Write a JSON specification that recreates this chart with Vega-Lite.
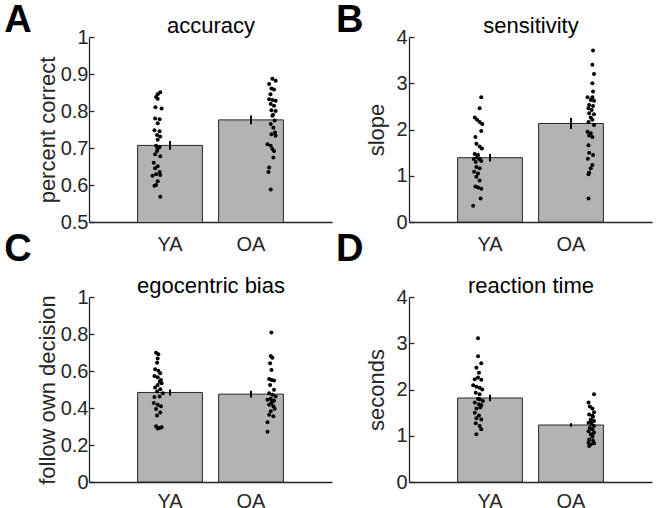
{
  "$schema": "https://vega.github.io/schema/vega-lite/v6.json",
  "background": "white",
  "padding": {"left": 4, "top": 2, "right": 5, "bottom": 0},
  "config": {
    "font": "Liberation Sans",
    "view": {"stroke": null},
    "axis": {"grid": false, "domainColor": "#262626", "domainWidth": 1.3, "tickColor": "#262626", "tickWidth": 1.3, "labelFont": "Liberation Sans", "labelFontSize": 20, "labelColor": "#262626", "labelOverlap": false, "labelSeparation": -20, "titleFont": "Liberation Sans", "titleFontSize": 22, "titleFontWeight": "normal", "titleColor": "#262626"},
    "axisY": {"labelPadding": 6, "titlePadding": 1, "format": "~g", "labelOverlap": false},
    "axisBottom": {"ticks": false, "labelPadding": 12, "labelAngle": 0, "title": null},
    "axisTop": {"ticks": false, "labels": false, "domain": false, "titlePadding": 0, "titleColor": "black"},
    "title": {"fontSize": 38, "fontWeight": "bold", "font": "Liberation Sans", "color": "black", "orient": "left", "angle": 0, "align": "right", "baseline": "alphabetic", "anchor": "end", "frame": "group", "offset": 2},
    "circle": {"color": "black", "opacity": 1, "size": 16},
    "rule": {"color": "black", "strokeWidth": 2}
  },
  "datasets": {
    "summary": [
      {"p": "A", "g": "YA", "m": 0.707, "lo": 0.695, "hi": 0.719},
      {"p": "A", "g": "OA", "m": 0.776, "lo": 0.764, "hi": 0.788},
      {"p": "B", "g": "YA", "m": 1.39, "lo": 1.31, "hi": 1.47},
      {"p": "B", "g": "OA", "m": 2.13, "lo": 2.01, "hi": 2.25},
      {"p": "C", "g": "YA", "m": 0.484, "lo": 0.468, "hi": 0.5},
      {"p": "C", "g": "OA", "m": 0.475, "lo": 0.457, "hi": 0.493},
      {"p": "D", "g": "YA", "m": 1.816, "lo": 1.745, "hi": 1.885},
      {"p": "D", "g": "OA", "m": 1.232, "lo": 1.196, "hi": 1.268}
    ],
    "points": [
      {"p": "A", "g": "YA", "v": 0.851, "j": 0.35},
      {"p": "A", "g": "YA", "v": 0.845, "j": 0.31},
      {"p": "A", "g": "YA", "v": 0.838, "j": 0.285},
      {"p": "A", "g": "YA", "v": 0.833, "j": 0.31},
      {"p": "A", "g": "YA", "v": 0.807, "j": 0.37},
      {"p": "A", "g": "YA", "v": 0.81, "j": 0.275},
      {"p": "A", "g": "YA", "v": 0.78, "j": 0.27},
      {"p": "A", "g": "YA", "v": 0.778, "j": 0.34},
      {"p": "A", "g": "YA", "v": 0.767, "j": 0.31},
      {"p": "A", "g": "YA", "v": 0.748, "j": 0.26},
      {"p": "A", "g": "YA", "v": 0.745, "j": 0.34},
      {"p": "A", "g": "YA", "v": 0.735, "j": 0.3},
      {"p": "A", "g": "YA", "v": 0.731, "j": 0.35},
      {"p": "A", "g": "YA", "v": 0.722, "j": 0.31},
      {"p": "A", "g": "YA", "v": 0.706, "j": 0.285},
      {"p": "A", "g": "YA", "v": 0.703, "j": 0.34},
      {"p": "A", "g": "YA", "v": 0.698, "j": 0.31},
      {"p": "A", "g": "YA", "v": 0.692, "j": 0.3},
      {"p": "A", "g": "YA", "v": 0.683, "j": 0.27},
      {"p": "A", "g": "YA", "v": 0.678, "j": 0.35},
      {"p": "A", "g": "YA", "v": 0.66, "j": 0.25},
      {"p": "A", "g": "YA", "v": 0.651, "j": 0.31},
      {"p": "A", "g": "YA", "v": 0.645, "j": 0.27},
      {"p": "A", "g": "YA", "v": 0.635, "j": 0.34},
      {"p": "A", "g": "YA", "v": 0.629, "j": 0.285},
      {"p": "A", "g": "YA", "v": 0.625, "j": 0.23},
      {"p": "A", "g": "YA", "v": 0.627, "j": 0.35},
      {"p": "A", "g": "YA", "v": 0.61, "j": 0.31},
      {"p": "A", "g": "YA", "v": 0.6, "j": 0.285},
      {"p": "A", "g": "YA", "v": 0.598, "j": 0.26},
      {"p": "A", "g": "YA", "v": 0.568, "j": 0.35},
      {"p": "A", "g": "OA", "v": 0.887, "j": 0.83},
      {"p": "A", "g": "OA", "v": 0.882, "j": 0.88},
      {"p": "A", "g": "OA", "v": 0.873, "j": 0.78},
      {"p": "A", "g": "OA", "v": 0.861, "j": 0.815},
      {"p": "A", "g": "OA", "v": 0.858, "j": 0.855},
      {"p": "A", "g": "OA", "v": 0.845, "j": 0.8},
      {"p": "A", "g": "OA", "v": 0.832, "j": 0.78},
      {"p": "A", "g": "OA", "v": 0.83, "j": 0.83},
      {"p": "A", "g": "OA", "v": 0.828, "j": 0.88},
      {"p": "A", "g": "OA", "v": 0.819, "j": 0.805},
      {"p": "A", "g": "OA", "v": 0.814, "j": 0.855},
      {"p": "A", "g": "OA", "v": 0.802, "j": 0.815},
      {"p": "A", "g": "OA", "v": 0.8, "j": 0.88},
      {"p": "A", "g": "OA", "v": 0.79, "j": 0.84},
      {"p": "A", "g": "OA", "v": 0.787, "j": 0.83},
      {"p": "A", "g": "OA", "v": 0.774, "j": 0.865},
      {"p": "A", "g": "OA", "v": 0.765, "j": 0.805},
      {"p": "A", "g": "OA", "v": 0.755, "j": 0.845},
      {"p": "A", "g": "OA", "v": 0.742, "j": 0.87},
      {"p": "A", "g": "OA", "v": 0.737, "j": 0.815},
      {"p": "A", "g": "OA", "v": 0.733, "j": 0.88},
      {"p": "A", "g": "OA", "v": 0.71, "j": 0.755},
      {"p": "A", "g": "OA", "v": 0.706, "j": 0.805},
      {"p": "A", "g": "OA", "v": 0.697, "j": 0.83},
      {"p": "A", "g": "OA", "v": 0.692, "j": 0.855},
      {"p": "A", "g": "OA", "v": 0.674, "j": 0.845},
      {"p": "A", "g": "OA", "v": 0.647, "j": 0.78},
      {"p": "A", "g": "OA", "v": 0.635, "j": 0.77},
      {"p": "A", "g": "OA", "v": 0.588, "j": 0.805},
      {"p": "B", "g": "YA", "v": 2.7, "j": 0.365},
      {"p": "B", "g": "YA", "v": 2.46, "j": 0.34},
      {"p": "B", "g": "YA", "v": 2.26, "j": 0.265},
      {"p": "B", "g": "YA", "v": 2.21, "j": 0.3},
      {"p": "B", "g": "YA", "v": 2.16, "j": 0.34},
      {"p": "B", "g": "YA", "v": 2.12, "j": 0.38},
      {"p": "B", "g": "YA", "v": 1.97, "j": 0.365},
      {"p": "B", "g": "YA", "v": 1.84, "j": 0.275},
      {"p": "B", "g": "YA", "v": 1.69, "j": 0.29},
      {"p": "B", "g": "YA", "v": 1.63, "j": 0.34},
      {"p": "B", "g": "YA", "v": 1.59, "j": 0.375},
      {"p": "B", "g": "YA", "v": 1.47, "j": 0.265},
      {"p": "B", "g": "YA", "v": 1.45, "j": 0.315},
      {"p": "B", "g": "YA", "v": 1.4, "j": 0.3},
      {"p": "B", "g": "YA", "v": 1.36, "j": 0.25},
      {"p": "B", "g": "YA", "v": 1.37, "j": 0.33},
      {"p": "B", "g": "YA", "v": 1.35, "j": 0.35},
      {"p": "B", "g": "YA", "v": 1.3, "j": 0.28},
      {"p": "B", "g": "YA", "v": 1.32, "j": 0.365},
      {"p": "B", "g": "YA", "v": 1.19, "j": 0.29},
      {"p": "B", "g": "YA", "v": 1.16, "j": 0.34},
      {"p": "B", "g": "YA", "v": 1.085, "j": 0.255},
      {"p": "B", "g": "YA", "v": 1.05, "j": 0.315},
      {"p": "B", "g": "YA", "v": 0.98, "j": 0.29},
      {"p": "B", "g": "YA", "v": 0.9, "j": 0.34},
      {"p": "B", "g": "YA", "v": 0.77, "j": 0.275},
      {"p": "B", "g": "YA", "v": 0.745, "j": 0.315},
      {"p": "B", "g": "YA", "v": 0.72, "j": 0.365},
      {"p": "B", "g": "YA", "v": 0.51, "j": 0.355},
      {"p": "B", "g": "YA", "v": 0.35, "j": 0.24},
      {"p": "B", "g": "OA", "v": 3.71, "j": 0.84},
      {"p": "B", "g": "OA", "v": 3.4, "j": 0.83},
      {"p": "B", "g": "OA", "v": 3.2, "j": 0.855},
      {"p": "B", "g": "OA", "v": 3.0, "j": 0.83},
      {"p": "B", "g": "OA", "v": 2.82, "j": 0.84},
      {"p": "B", "g": "OA", "v": 2.7, "j": 0.83},
      {"p": "B", "g": "OA", "v": 2.7, "j": 0.755},
      {"p": "B", "g": "OA", "v": 2.64, "j": 0.805},
      {"p": "B", "g": "OA", "v": 2.62, "j": 0.855},
      {"p": "B", "g": "OA", "v": 2.53, "j": 0.78},
      {"p": "B", "g": "OA", "v": 2.51, "j": 0.84},
      {"p": "B", "g": "OA", "v": 2.46, "j": 0.77},
      {"p": "B", "g": "OA", "v": 2.42, "j": 0.82},
      {"p": "B", "g": "OA", "v": 2.35, "j": 0.78},
      {"p": "B", "g": "OA", "v": 2.33, "j": 0.855},
      {"p": "B", "g": "OA", "v": 2.26, "j": 0.805},
      {"p": "B", "g": "OA", "v": 2.21, "j": 0.83},
      {"p": "B", "g": "OA", "v": 2.16, "j": 0.77},
      {"p": "B", "g": "OA", "v": 2.1, "j": 0.855},
      {"p": "B", "g": "OA", "v": 1.95, "j": 0.755},
      {"p": "B", "g": "OA", "v": 1.92, "j": 0.805},
      {"p": "B", "g": "OA", "v": 1.87, "j": 0.78},
      {"p": "B", "g": "OA", "v": 1.84, "j": 0.83},
      {"p": "B", "g": "OA", "v": 1.66, "j": 0.77},
      {"p": "B", "g": "OA", "v": 1.5, "j": 0.78},
      {"p": "B", "g": "OA", "v": 1.45, "j": 0.84},
      {"p": "B", "g": "OA", "v": 1.37, "j": 0.76},
      {"p": "B", "g": "OA", "v": 1.23, "j": 0.83},
      {"p": "B", "g": "OA", "v": 1.16, "j": 0.805},
      {"p": "B", "g": "OA", "v": 1.07, "j": 0.78},
      {"p": "B", "g": "OA", "v": 1.03, "j": 0.77},
      {"p": "B", "g": "OA", "v": 0.51, "j": 0.77},
      {"p": "C", "g": "YA", "v": 0.699, "j": 0.285},
      {"p": "C", "g": "YA", "v": 0.69, "j": 0.32},
      {"p": "C", "g": "YA", "v": 0.668, "j": 0.31},
      {"p": "C", "g": "YA", "v": 0.645, "j": 0.3},
      {"p": "C", "g": "YA", "v": 0.609, "j": 0.27},
      {"p": "C", "g": "YA", "v": 0.602, "j": 0.32},
      {"p": "C", "g": "YA", "v": 0.588, "j": 0.35},
      {"p": "C", "g": "YA", "v": 0.573, "j": 0.26},
      {"p": "C", "g": "YA", "v": 0.566, "j": 0.31},
      {"p": "C", "g": "YA", "v": 0.552, "j": 0.36},
      {"p": "C", "g": "YA", "v": 0.543, "j": 0.34},
      {"p": "C", "g": "YA", "v": 0.534, "j": 0.37},
      {"p": "C", "g": "YA", "v": 0.525, "j": 0.31},
      {"p": "C", "g": "YA", "v": 0.511, "j": 0.27},
      {"p": "C", "g": "YA", "v": 0.502, "j": 0.35},
      {"p": "C", "g": "YA", "v": 0.489, "j": 0.3},
      {"p": "C", "g": "YA", "v": 0.48, "j": 0.39},
      {"p": "C", "g": "YA", "v": 0.459, "j": 0.26},
      {"p": "C", "g": "YA", "v": 0.462, "j": 0.34},
      {"p": "C", "g": "YA", "v": 0.427, "j": 0.25},
      {"p": "C", "g": "YA", "v": 0.418, "j": 0.31},
      {"p": "C", "g": "YA", "v": 0.409, "j": 0.36},
      {"p": "C", "g": "YA", "v": 0.394, "j": 0.285},
      {"p": "C", "g": "YA", "v": 0.376, "j": 0.35},
      {"p": "C", "g": "YA", "v": 0.36, "j": 0.3},
      {"p": "C", "g": "YA", "v": 0.301, "j": 0.285},
      {"p": "C", "g": "YA", "v": 0.292, "j": 0.34},
      {"p": "C", "g": "YA", "v": 0.289, "j": 0.31},
      {"p": "C", "g": "YA", "v": 0.296, "j": 0.37},
      {"p": "C", "g": "OA", "v": 0.808, "j": 0.815},
      {"p": "C", "g": "OA", "v": 0.681, "j": 0.805},
      {"p": "C", "g": "OA", "v": 0.672, "j": 0.83},
      {"p": "C", "g": "OA", "v": 0.642, "j": 0.795},
      {"p": "C", "g": "OA", "v": 0.606, "j": 0.815},
      {"p": "C", "g": "OA", "v": 0.557, "j": 0.78},
      {"p": "C", "g": "OA", "v": 0.552, "j": 0.82},
      {"p": "C", "g": "OA", "v": 0.548, "j": 0.855},
      {"p": "C", "g": "OA", "v": 0.525, "j": 0.795},
      {"p": "C", "g": "OA", "v": 0.498, "j": 0.855},
      {"p": "C", "g": "OA", "v": 0.48, "j": 0.78},
      {"p": "C", "g": "OA", "v": 0.471, "j": 0.83},
      {"p": "C", "g": "OA", "v": 0.462, "j": 0.88},
      {"p": "C", "g": "OA", "v": 0.45, "j": 0.805},
      {"p": "C", "g": "OA", "v": 0.444, "j": 0.755},
      {"p": "C", "g": "OA", "v": 0.439, "j": 0.855},
      {"p": "C", "g": "OA", "v": 0.436, "j": 0.83},
      {"p": "C", "g": "OA", "v": 0.427, "j": 0.815},
      {"p": "C", "g": "OA", "v": 0.418, "j": 0.78},
      {"p": "C", "g": "OA", "v": 0.409, "j": 0.845},
      {"p": "C", "g": "OA", "v": 0.396, "j": 0.865},
      {"p": "C", "g": "OA", "v": 0.382, "j": 0.805},
      {"p": "C", "g": "OA", "v": 0.364, "j": 0.78},
      {"p": "C", "g": "OA", "v": 0.355, "j": 0.845},
      {"p": "C", "g": "OA", "v": 0.323, "j": 0.755},
      {"p": "C", "g": "OA", "v": 0.271, "j": 0.755},
      {"p": "D", "g": "YA", "v": 3.11, "j": 0.315},
      {"p": "D", "g": "YA", "v": 2.72, "j": 0.315},
      {"p": "D", "g": "YA", "v": 2.57, "j": 0.365},
      {"p": "D", "g": "YA", "v": 2.47, "j": 0.29},
      {"p": "D", "g": "YA", "v": 2.36, "j": 0.33},
      {"p": "D", "g": "YA", "v": 2.26, "j": 0.315},
      {"p": "D", "g": "YA", "v": 2.22, "j": 0.265},
      {"p": "D", "g": "YA", "v": 2.21, "j": 0.365},
      {"p": "D", "g": "YA", "v": 2.09, "j": 0.24},
      {"p": "D", "g": "YA", "v": 2.06, "j": 0.29},
      {"p": "D", "g": "YA", "v": 2.04, "j": 0.34},
      {"p": "D", "g": "YA", "v": 2.0, "j": 0.38},
      {"p": "D", "g": "YA", "v": 1.93, "j": 0.28},
      {"p": "D", "g": "YA", "v": 1.9, "j": 0.34},
      {"p": "D", "g": "YA", "v": 1.8, "j": 0.315},
      {"p": "D", "g": "YA", "v": 1.79, "j": 0.34},
      {"p": "D", "g": "YA", "v": 1.75, "j": 0.39},
      {"p": "D", "g": "YA", "v": 1.72, "j": 0.265},
      {"p": "D", "g": "YA", "v": 1.68, "j": 0.33},
      {"p": "D", "g": "YA", "v": 1.66, "j": 0.365},
      {"p": "D", "g": "YA", "v": 1.61, "j": 0.35},
      {"p": "D", "g": "YA", "v": 1.59, "j": 0.29},
      {"p": "D", "g": "YA", "v": 1.5, "j": 0.265},
      {"p": "D", "g": "YA", "v": 1.44, "j": 0.33},
      {"p": "D", "g": "YA", "v": 1.38, "j": 0.29},
      {"p": "D", "g": "YA", "v": 1.35, "j": 0.365},
      {"p": "D", "g": "YA", "v": 1.27, "j": 0.28},
      {"p": "D", "g": "YA", "v": 1.21, "j": 0.34},
      {"p": "D", "g": "YA", "v": 1.14, "j": 0.365},
      {"p": "D", "g": "YA", "v": 1.03, "j": 0.29},
      {"p": "D", "g": "OA", "v": 1.9, "j": 0.855},
      {"p": "D", "g": "OA", "v": 1.72, "j": 0.77},
      {"p": "D", "g": "OA", "v": 1.63, "j": 0.79},
      {"p": "D", "g": "OA", "v": 1.59, "j": 0.83},
      {"p": "D", "g": "OA", "v": 1.51, "j": 0.855},
      {"p": "D", "g": "OA", "v": 1.46, "j": 0.78},
      {"p": "D", "g": "OA", "v": 1.43, "j": 0.83},
      {"p": "D", "g": "OA", "v": 1.41, "j": 0.84},
      {"p": "D", "g": "OA", "v": 1.35, "j": 0.805},
      {"p": "D", "g": "OA", "v": 1.32, "j": 0.855},
      {"p": "D", "g": "OA", "v": 1.3, "j": 0.805},
      {"p": "D", "g": "OA", "v": 1.28, "j": 0.77},
      {"p": "D", "g": "OA", "v": 1.25, "j": 0.82},
      {"p": "D", "g": "OA", "v": 1.21, "j": 0.855},
      {"p": "D", "g": "OA", "v": 1.17, "j": 0.79},
      {"p": "D", "g": "OA", "v": 1.14, "j": 0.83},
      {"p": "D", "g": "OA", "v": 1.1, "j": 0.77},
      {"p": "D", "g": "OA", "v": 1.07, "j": 0.855},
      {"p": "D", "g": "OA", "v": 1.03, "j": 0.805},
      {"p": "D", "g": "OA", "v": 1.01, "j": 0.83},
      {"p": "D", "g": "OA", "v": 0.98, "j": 0.83},
      {"p": "D", "g": "OA", "v": 0.92, "j": 0.78},
      {"p": "D", "g": "OA", "v": 0.89, "j": 0.84},
      {"p": "D", "g": "OA", "v": 0.85, "j": 0.77},
      {"p": "D", "g": "OA", "v": 0.84, "j": 0.855},
      {"p": "D", "g": "OA", "v": 0.81, "j": 0.805},
      {"p": "D", "g": "OA", "v": 0.78, "j": 0.78}
    ]
  },
  "concat": [
    {
      "width": 243, "height": 185,
      "title": {"text": "A", "dy": -35, "dx": 25},
      "resolve": {"scale": {"x": "independent", "xOffset": "independent"}, "axis": {"x": "independent"}},
      "layer": [
        {"data": {"name": "summary"}, "transform": [{"filter": "datum.p == 'A'"}],
         "mark": {"type": "bar", "fill": "#b3b3b3", "stroke": "#262626", "strokeWidth": 1, "clip": true},
         "encoding": {
           "x": {"field": "g", "type": "nominal", "sort": ["YA", "OA"], "scale": {"type": "band", "paddingInner": 0.2, "paddingOuter": 0.6}, "axis": {"orient": "bottom"}},
           "y": {"field": "m", "type": "quantitative", "scale": {"domain": [0.5, 1], "zero": false}, "axis": {"title": "percent correct", "values": [0.5, 0.6, 0.7, 0.8, 0.9, 1], "labelOverlap": false, "ticks": true, "tickSize": -5}}}},
        {"data": {"name": "points"}, "transform": [{"filter": "datum.p == 'A'"}], "mark": "circle",
         "encoding": {
           "x": {"field": "g", "type": "nominal", "sort": ["YA", "OA"], "scale": {"type": "band", "paddingInner": 0.2, "paddingOuter": 0.6}, "axis": {"orient": "top", "title": "accuracy"}},
           "xOffset": {"field": "j", "type": "quantitative", "scale": {"domain": [0, 1]}},
           "y": {"field": "v", "type": "quantitative", "axis": {"title": "percent correct", "values": [0.5, 0.6, 0.7, 0.8, 0.9, 1], "labelOverlap": false, "ticks": true, "tickSize": -5}}}},
        {"data": {"name": "summary"}, "transform": [{"filter": "datum.p == 'A'"}], "mark": "rule",
         "encoding": {
           "x": {"field": "g", "type": "nominal", "sort": ["YA", "OA"], "scale": {"type": "band", "paddingInner": 0.2, "paddingOuter": 0.6}, "axis": null},
           "y": {"field": "lo", "type": "quantitative", "axis": {"title": "percent correct", "values": [0.5, 0.6, 0.7, 0.8, 0.9, 1], "labelOverlap": false, "ticks": true, "tickSize": -5}},
           "y2": {"field": "hi"}}}
      ]
    },
    {
      "width": 243, "height": 185,
      "title": {"text": "B", "dy": -35, "dx": 27},
      "resolve": {"scale": {"x": "independent", "xOffset": "independent"}, "axis": {"x": "independent"}},
      "layer": [
        {"data": {"name": "summary"}, "transform": [{"filter": "datum.p == 'B'"}],
         "mark": {"type": "bar", "fill": "#b3b3b3", "stroke": "#262626", "strokeWidth": 1, "clip": true},
         "encoding": {
           "x": {"field": "g", "type": "nominal", "sort": ["YA", "OA"], "scale": {"type": "band", "paddingInner": 0.2, "paddingOuter": 0.6}, "axis": {"orient": "bottom"}},
           "y": {"field": "m", "type": "quantitative", "scale": {"domain": [0, 4]}, "axis": {"title": "slope", "values": [0, 1, 2, 3, 4], "labelOverlap": false, "ticks": true, "tickSize": -5, "labelPadding": 7, "titlePadding": 7}}}},
        {"data": {"name": "points"}, "transform": [{"filter": "datum.p == 'B'"}], "mark": "circle",
         "encoding": {
           "x": {"field": "g", "type": "nominal", "sort": ["YA", "OA"], "scale": {"type": "band", "paddingInner": 0.2, "paddingOuter": 0.6}, "axis": {"orient": "top", "title": "sensitivity"}},
           "xOffset": {"field": "j", "type": "quantitative", "scale": {"domain": [0, 1]}},
           "y": {"field": "v", "type": "quantitative", "axis": {"title": "slope", "values": [0, 1, 2, 3, 4], "labelOverlap": false, "ticks": true, "tickSize": -5, "labelPadding": 7, "titlePadding": 7}}}},
        {"data": {"name": "summary"}, "transform": [{"filter": "datum.p == 'B'"}], "mark": "rule",
         "encoding": {
           "x": {"field": "g", "type": "nominal", "sort": ["YA", "OA"], "scale": {"type": "band", "paddingInner": 0.2, "paddingOuter": 0.6}, "axis": null},
           "y": {"field": "lo", "type": "quantitative", "axis": {"title": "slope", "values": [0, 1, 2, 3, 4], "labelOverlap": false, "ticks": true, "tickSize": -5, "labelPadding": 7, "titlePadding": 7}},
           "y2": {"field": "hi"}}}
      ]
    },
    {
      "width": 243, "height": 185,
      "title": {"text": "C", "dy": -66, "dx": 25},
      "resolve": {"scale": {"x": "independent", "xOffset": "independent"}, "axis": {"x": "independent"}},
      "layer": [
        {"data": {"name": "summary"}, "transform": [{"filter": "datum.p == 'C'"}],
         "mark": {"type": "bar", "fill": "#b3b3b3", "stroke": "#262626", "strokeWidth": 1, "clip": true},
         "encoding": {
           "x": {"field": "g", "type": "nominal", "sort": ["YA", "OA"], "scale": {"type": "band", "paddingInner": 0.2, "paddingOuter": 0.6}, "axis": {"orient": "bottom", "labelPadding": 9}},
           "y": {"field": "m", "type": "quantitative", "scale": {"domain": [0, 1]}, "axis": {"title": "follow own decision", "values": [0, 0.2, 0.4, 0.6, 0.8, 1], "labelOverlap": false, "ticks": true, "tickSize": -5}}}},
        {"data": {"name": "points"}, "transform": [{"filter": "datum.p == 'C'"}], "mark": "circle",
         "encoding": {
           "x": {"field": "g", "type": "nominal", "sort": ["YA", "OA"], "scale": {"type": "band", "paddingInner": 0.2, "paddingOuter": 0.6}, "axis": {"orient": "top", "title": "egocentric bias"}},
           "xOffset": {"field": "j", "type": "quantitative", "scale": {"domain": [0, 1]}},
           "y": {"field": "v", "type": "quantitative", "axis": {"title": "follow own decision", "values": [0, 0.2, 0.4, 0.6, 0.8, 1], "labelOverlap": false, "ticks": true, "tickSize": -5}}}},
        {"data": {"name": "summary"}, "transform": [{"filter": "datum.p == 'C'"}], "mark": "rule",
         "encoding": {
           "x": {"field": "g", "type": "nominal", "sort": ["YA", "OA"], "scale": {"type": "band", "paddingInner": 0.2, "paddingOuter": 0.6}, "axis": null},
           "y": {"field": "lo", "type": "quantitative", "axis": {"title": "follow own decision", "values": [0, 0.2, 0.4, 0.6, 0.8, 1], "labelOverlap": false, "ticks": true, "tickSize": -5}},
           "y2": {"field": "hi"}}}
      ]
    },
    {
      "width": 243, "height": 185,
      "title": {"text": "D", "dy": -66, "dx": 27},
      "resolve": {"scale": {"x": "independent", "xOffset": "independent"}, "axis": {"x": "independent"}},
      "layer": [
        {"data": {"name": "summary"}, "transform": [{"filter": "datum.p == 'D'"}],
         "mark": {"type": "bar", "fill": "#b3b3b3", "stroke": "#262626", "strokeWidth": 1, "clip": true},
         "encoding": {
           "x": {"field": "g", "type": "nominal", "sort": ["YA", "OA"], "scale": {"type": "band", "paddingInner": 0.2, "paddingOuter": 0.6}, "axis": {"orient": "bottom", "labelPadding": 9}},
           "y": {"field": "m", "type": "quantitative", "scale": {"domain": [0, 4]}, "axis": {"title": "seconds", "values": [0, 1, 2, 3, 4], "labelOverlap": false, "ticks": true, "tickSize": -5, "labelPadding": 7, "titlePadding": 7}}}},
        {"data": {"name": "points"}, "transform": [{"filter": "datum.p == 'D'"}], "mark": "circle",
         "encoding": {
           "x": {"field": "g", "type": "nominal", "sort": ["YA", "OA"], "scale": {"type": "band", "paddingInner": 0.2, "paddingOuter": 0.6}, "axis": {"orient": "top", "title": "reaction time"}},
           "xOffset": {"field": "j", "type": "quantitative", "scale": {"domain": [0, 1]}},
           "y": {"field": "v", "type": "quantitative", "axis": {"title": "seconds", "values": [0, 1, 2, 3, 4], "labelOverlap": false, "ticks": true, "tickSize": -5, "labelPadding": 7, "titlePadding": 7}}}},
        {"data": {"name": "summary"}, "transform": [{"filter": "datum.p == 'D'"}], "mark": "rule",
         "encoding": {
           "x": {"field": "g", "type": "nominal", "sort": ["YA", "OA"], "scale": {"type": "band", "paddingInner": 0.2, "paddingOuter": 0.6}, "axis": null},
           "y": {"field": "lo", "type": "quantitative", "axis": {"title": "seconds", "values": [0, 1, 2, 3, 4], "labelOverlap": false, "ticks": true, "tickSize": -5, "labelPadding": 7, "titlePadding": 7}},
           "y2": {"field": "hi"}}}
      ]
    }
  ],
  "columns": 2,
  "spacing": {"row": -23, "column": 3}
}
